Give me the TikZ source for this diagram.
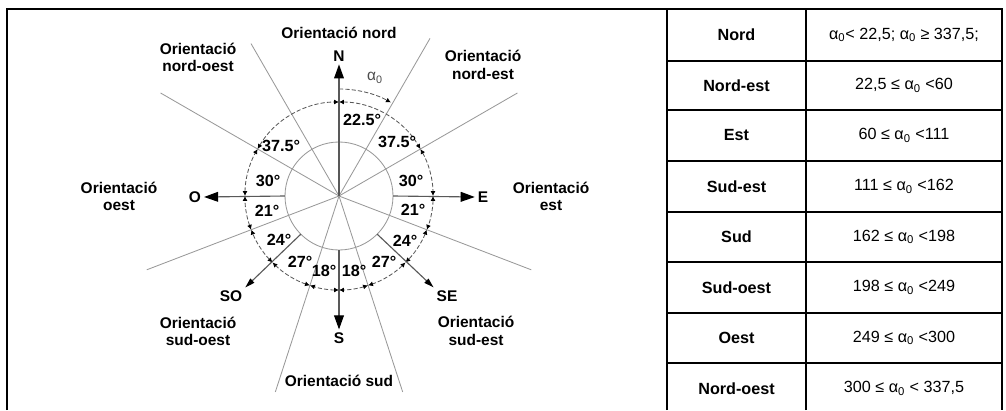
\documentclass[tikz,border=0pt]{standalone}
\usepackage{fontspec}
\setmainfont{Liberation Sans}
\usetikzlibrary{arrows.meta}

\definecolor{raycol}{gray}{0.6}
\definecolor{ringcol}{gray}{0.35}
\newcommand{\azero}{α\textsubscript{0}}

\tikzset{
  frame/.style={line width=2pt},
  ray/.style={raycol, line width=0.6pt},
  dimarc/.style={ringcol, dashed, dash pattern=on 3pt off 1.5pt, line width=0.6pt,
    {Latex[length=3.5pt,width=3.5pt,color=black]}-{Latex[length=3.5pt,width=3.5pt,color=black]}},
  dirarrow/.style={ringcol, line width=0.8pt, -{Triangle[length=10pt,width=7pt,color=black]}},
  diagarrow/.style={ringcol, line width=0.8pt, -{Triangle[length=7pt,width=4pt,color=black]}},
  dirlab/.style={font=\bfseries\fontsize{11}{12}\selectfont, inner sep=2pt},
  orient/.style={font=\bfseries\fontsize{11}{12.5}\selectfont, align=center, inner sep=0pt},
  anglab/.style={font=\bfseries\fontsize{11.5}{12}\selectfont, inner sep=0pt},
  cell/.style={font=\fontsize{11.5}{13}\selectfont, inner sep=0pt},
}

\begin{document}
\begin{tikzpicture}[x=0.025cm, y=0.025cm]
  \useasboundingbox (0,0) rectangle (1006,410);

  % marc i taula
  \draw[frame] (7,0) -- (7,401) -- (1002,401) -- (1002,0);
  \draw[frame] (667,0) -- (667,401);
  \draw[frame] (806,0) -- (806,401);
  \foreach \y in {349,300,249,198,148,97,47}
    \draw[frame] (667,\y) -- (1002,\y);

  % textos de la taula
  \foreach \nom/\val/\y [count=\i] in {
      Nord/{\azero< 22,5; \azero{} ≥ 337,5;}/375,
      Nord-est/{22,5 ≤ \azero{} <60}/324.5,
      Est/{60 ≤ \azero{} <111}/274.5,
      Sud-est/{111 ≤ \azero{} <162}/223.5,
      Sud/{162 ≤ \azero{} <198}/173,
      Sud-oest/{198 ≤ \azero{} <249}/122.5,
      Oest/{249 ≤ \azero{} <300}/72,
      Nord-oest/{300 ≤ \azero{} < 337,5}/21.5}
  {
    \node[cell, font=\bfseries\fontsize{11.5}{13}\selectfont] (dir\i) at (736.5,\y) {\nom};
    \node[cell] (rang\i) at (904,\y) {\val};
  }

  % centre i cercle interior
  \coordinate (c) at (339,214);
  \draw[raycol, line width=0.6pt] (c) circle (54);

  % rajos dels limits
  \foreach \b/\l in {30/182,60/206,111/206,162/206,198/206,249/206,300/206,330/176}
    \draw[ray] (c) -- ++({90-\b}:\l);

  % arcs acotats del cercle exterior
  \foreach \a/\b in {0/60,60/90,90/111,111/135,135/162,162/180,180/198,198/225,225/249,249/270,270/300,300/360}
    \draw[dimarc] ([shift={({90-\a}:94)}]c) arc[start angle={90-\a}, end angle={90-\b}, radius=94];

  % angle alfa
  \draw[ringcol, dashed, dash pattern=on 3pt off 1.5pt, line width=0.6pt, -{Latex[length=3.5pt,width=3.5pt,color=black]}]
    ([shift={(90:107)}]c) arc[start angle=90, end angle=61, radius=107];
  \node[font=\fontsize{11}{12}\selectfont, text=gray!60!black, inner sep=0pt] (alfa) at (375,332) {\azero};

  % fletxes dels punts cardinals
  \node[dirlab] (N) at (339,354) {N};
  \node[dirlab] (S) at (339,72) {S};
  \node[dirlab] (E) at (483,213) {E};
  \node[dirlab] (O) at (195,213) {O};
  \node[dirlab] (SE) at (447,114) {SE};
  \node[dirlab] (SO) at (231,114) {SO};
  \draw[dirarrow] (c) -- (N.south);
  \draw[dirarrow] (c) ++(-90:54) -- (S.north);
  \draw[dirarrow] (c) ++(0:54) -- (E.west);
  \draw[dirarrow] (c) ++(180:54) -- (O.east);
  \draw[diagarrow] (c) ++(-45:54) -- (SE.north west);
  \draw[diagarrow] (c) ++(-135:54) -- (SO.north east);

  % valors dels sectors
  \node[anglab] (a1) at (362,290) {22.5°};
  \node[anglab] (a2) at (397,268) {37.5°};
  \node[anglab] (a3) at (411,229) {30°};
  \node[anglab] (a4) at (413,200) {21°};
  \node[anglab] (a5) at (405,169) {24°};
  \node[anglab] (a6) at (384,148) {27°};
  \node[anglab] (a7) at (354,139) {18°};
  \node[anglab] (a8) at (324,139) {18°};
  \node[anglab] (a9) at (300,148) {27°};
  \node[anglab] (a10) at (279,170) {24°};
  \node[anglab] (a11) at (267,199) {21°};
  \node[anglab] (a12) at (268,229) {30°};
  \node[anglab] (a13) at (281,264) {37.5°};

  % orientacions
  \node[orient] (onord) at (339,377) {Orientació nord};
  \node[orient] (onordoest) at (198,352.5) {Orientació\\nord-oest};
  \node[orient] (onordest) at (483,345) {Orientació\\nord-est};
  \node[orient] (ooest) at (119,213.5) {Orientació\\oest};
  \node[orient] (oest) at (551,213.5) {Orientació\\est};
  \node[orient] (osudoest) at (198,78.5) {Orientació\\sud-oest};
  \node[orient] (osudest) at (476,79) {Orientació\\sud-est};
  \node[orient] (osud) at (339,29) {Orientació sud};
\end{tikzpicture}
\end{document}
